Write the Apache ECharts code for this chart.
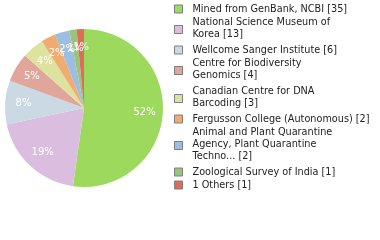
<!DOCTYPE html>
<html><head><meta charset="utf-8">
<script src="https://cdn.jsdelivr.net/npm/echarts@6/dist/echarts.min.js"></script>
<style>html,body{margin:0;padding:0;background:#fff}#c{width:380px;height:240px}</style>
</head><body><div id="c"></div>
<script>
const names = [
  'Mined from GenBank, NCBI',
  'National Science Museum of\nKorea',
  'Wellcome Sanger Institute',
  'Centre for Biodiversity\nGenomics',
  'Canadian Centre for DNA\nBarcoding',
  'Fergusson College (Autonomous)',
  'Animal and Plant Quarantine\nAgency, Plant Quarantine\nTechno...',
  'Zoological Survey of India',
  '1 Others'
];
const values = [35, 13, 6, 4, 3, 2, 2, 1, 1];
const colors = ['#9dd95c', '#dbbde0', '#cbd9e5', '#e0a69b', '#dde29e', '#f0ac70', '#9dbde1', '#9bc47b', '#de6c58'];

const total = values.reduce((a, b) => a + b, 0);
const data = names.map((n, i) => ({ name: n, value: values[i], itemStyle: { color: colors[i] } }));
const chart = echarts.init(document.getElementById('c'), null, { renderer: 'canvas' });
const center = [84, 108];
const R = 79;
chart.setOption({
  animation: false,
  legend: {
    orient: 'vertical', left: 169, top: -2,
    itemWidth: 8, itemHeight: 8, itemGap: 1,
    icon: 'rect',
    itemStyle: { borderColor: '#7f7f7f', borderWidth: 1 },
    data: names,
    formatter: function (n) {
      const v = values[names.indexOf(n)];
      const t = n + ' [' + v + ']';
      return n.indexOf('\n') >= 0 ? t + '\n{s|}' : t;
    },
    textStyle: { fontFamily: 'DejaVu Sans', fontSize: 9.7, color: '#222', lineHeight: 12,
      padding: [0, 0, 0, 5],
      rich: { s: { lineHeight: 3, fontSize: 3 } } }
  },
  series: [
    {
      type: 'pie', center: center, radius: [0, R], startAngle: 90, clockwise: true,
      data: data, label: { show: false }, labelLine: { show: false },
      itemStyle: { borderWidth: 0 }, silent: true
    },
    {
      type: 'pie', center: center, radius: [0, R * 1.46], startAngle: 90, clockwise: true,
      data: names.map((n, i) => ({ name: n, value: values[i] })),
      itemStyle: { color: 'rgba(0,0,0,0)' }, silent: true, legendHoverLink: false,
      avoidLabelOverlap: false, minShowLabelAngle: 0,
      labelLayout: { hideOverlap: false },
      label: { show: true, position: 'inside', color: '#fff', fontFamily: 'DejaVu Sans', fontSize: 10,
        formatter: p => Math.floor(p.value / total * 100) + '%' },
      labelLine: { show: false }
    }
  ]
});
</script></body></html>
